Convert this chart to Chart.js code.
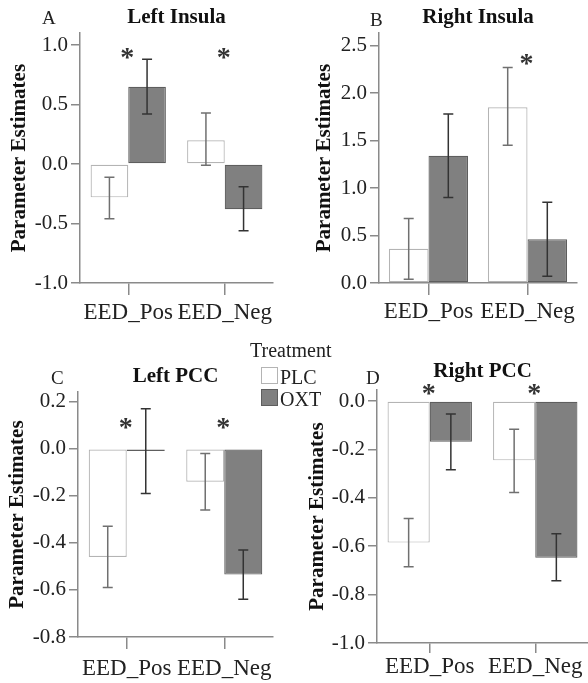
<!DOCTYPE html>
<html>
<head>
<meta charset="utf-8">
<script src="https://cdn.jsdelivr.net/npm/chart.js@4.4.1/dist/chart.umd.min.js"></script>
<style>
  body { margin: 0; background: #fff; }
  #wrap { position: relative; width: 588px; height: 683px; overflow: hidden; font-family: "Liberation Serif", "Times New Roman", serif; color: #222; }
  canvas { position: absolute; }
  .letter { position: absolute; font-size: 19px; line-height: 1; }
  .legend { position: absolute; font-size: 20px; line-height: 1; }
  .box { position: absolute; width: 17px; height: 17px; box-sizing: border-box; }
</style>
</head>
<body>
<div id="wrap">
  <canvas id="panelA" width="290" height="330" style="left:0;top:0"></canvas>
  <canvas id="panelB" width="298" height="330" style="left:290px;top:0"></canvas>
  <canvas id="panelC" width="290" height="353" style="left:0;top:330px"></canvas>
  <canvas id="panelD" width="298" height="353" style="left:290px;top:330px"></canvas>

  <div class="letter" style="left:42px;top:8px">A</div>
  <div class="letter" style="left:370px;top:10px">B</div>
  <div class="letter" style="left:51px;top:368px">C</div>
  <div class="letter" style="left:366px;top:368px">D</div>

  <div class="legend" style="left:250px;top:340px">Treatment</div>
  <div class="box" id="boxPLC" style="left:261px;top:367px"></div>
  <div class="legend" style="left:280px;top:367px">PLC</div>
  <div class="box" id="boxOXT" style="left:261px;top:389px"></div>
  <div class="legend" style="left:280px;top:389px">OXT</div>
</div>
<script>
// categories and series
const categories = ['EED_Pos', 'EED_Neg'];
const seriesNames = ['PLC', 'OXT'];

// A - Left Insula
const leftInsulaTitle = 'Left Insula';
const leftInsulaPLC = [-0.28, 0.20];
const leftInsulaPLCErr = [[-0.46, -0.11], [-0.01, 0.43]];
const leftInsulaOXT = [0.65, -0.38];
const leftInsulaOXTErr = [[0.42, 0.88], [-0.56, -0.19]];
const leftInsulaTicks = [-1.0, -0.5, 0.0, 0.5, 1.0];
const leftInsulaStars = ['EED_Pos', 'EED_Neg'];

// B - Right Insula
const rightInsulaTitle = 'Right Insula';
const rightInsulaPLC = [0.36, 1.85];
const rightInsulaPLCErr = [[0.04, 0.68], [1.45, 2.27]];
const rightInsulaOXT = [1.34, 0.46];
const rightInsulaOXTErr = [[0.90, 1.78], [0.07, 0.85]];
const rightInsulaTicks = [0.0, 0.5, 1.0, 1.5, 2.0, 2.5];
const rightInsulaStars = ['EED_Neg'];

// C - Left PCC
const leftPccTitle = 'Left PCC';
const leftPccPLC = [-0.46, -0.14];
const leftPccPLCErr = [[-0.59, -0.33], [-0.26, -0.02]];
const leftPccOXT = [-0.01, -0.535];
const leftPccOXTErr = [[-0.19, 0.17], [-0.64, -0.43]];
const leftPccTicks = [-0.8, -0.6, -0.4, -0.2, 0.0, 0.2];
const leftPccStars = ['EED_Pos', 'EED_Neg'];

// D - Right PCC
const rightPccTitle = 'Right PCC';
const rightPccPLC = [-0.585, -0.245];
const rightPccPLCErr = [[-0.685, -0.485], [-0.378, -0.116]];
const rightPccOXT = [-0.168, -0.648];
const rightPccOXTErr = [[-0.284, -0.053], [-0.743, -0.548]];
const rightPccTicks = [-1.0, -0.8, -0.6, -0.4, -0.2, 0.0];
const rightPccStars = ['EED_Pos', 'EED_Neg'];

const colors = {
  plcFill: '#ffffff',
  plcBorder: '#b4b4b4',
  plcErr: '#707070',
  oxtFill: '#808080',
  oxtBorder: '#5e5e5e',
  oxtErr: '#333333',
  axis: '#8a8a8a',
  text: '#222222'
};

const serif = '"Liberation Serif", "Times New Roman", serif';
Chart.defaults.font.family = serif;
Chart.defaults.color = colors.text;

document.getElementById('boxPLC').style.cssText += `background:${colors.plcFill};border:1px solid ${colors.plcBorder};`;
document.getElementById('boxOXT').style.cssText += `background:${colors.oxtFill};border:1px solid ${colors.oxtBorder};`;

// draws the error bars from dataset.errorBars
const errorBarPlugin = {
  id: 'errorBars',
  afterDatasetsDraw(chart) {
    const ctx = chart.ctx;
    const y = chart.scales.y;
    chart.data.datasets.forEach((ds, di) => {
      const meta = chart.getDatasetMeta(di);
      if (!ds.errorBars) return;
      ctx.save();
      ctx.strokeStyle = ds.errorColor;
      ctx.lineWidth = 1.5;
      meta.data.forEach((bar, i) => {
        const [lo, hi] = ds.errorBars[i];
        const x = bar.x;
        const yLo = y.getPixelForValue(lo);
        const yHi = y.getPixelForValue(hi);
        ctx.beginPath();
        ctx.moveTo(x, yLo); ctx.lineTo(x, yHi);
        ctx.moveTo(x - 5, yLo); ctx.lineTo(x + 5, yLo);
        ctx.moveTo(x - 5, yHi); ctx.lineTo(x + 5, yHi);
        ctx.stroke();
      });
      ctx.restore();
    });
  }
};

// significance asterisks above categories
const starPlugin = {
  id: 'stars',
  afterDraw(chart, args, opts) {
    if (!opts.labels) return;
    const ctx = chart.ctx;
    const size = 28;
    ctx.save();
    ctx.font = `bold ${size}px ${serif}`;
    ctx.fillStyle = '#333';
    ctx.textAlign = 'center';
    ctx.textBaseline = 'alphabetic';
    opts.labels.forEach(label => {
      const x = chart.scales.x.getPixelForValue(categories.indexOf(label));
      const yc = chart.scales.y.getPixelForValue(opts.value);
      ctx.fillText('*', x - 1, yc + size * 0.52);
    });
    ctx.restore();
  }
};

function makePanel(id, cfg) {
  return new Chart(document.getElementById(id), {
    type: 'bar',
    data: {
      labels: categories,
      datasets: [
        {
          label: seriesNames[0],
          data: cfg.plc,
          errorBars: cfg.plcErr,
          errorColor: colors.plcErr,
          backgroundColor: colors.plcFill,
          borderColor: colors.plcBorder,
          borderWidth: 1.2,
          borderSkipped: false,
          categoryPercentage: cfg.catPct,
          barPercentage: 1.0
        },
        {
          label: seriesNames[1],
          data: cfg.oxt,
          errorBars: cfg.oxtErr,
          errorColor: colors.oxtErr,
          backgroundColor: colors.oxtFill,
          borderColor: colors.oxtBorder,
          borderWidth: 1.2,
          borderSkipped: false,
          categoryPercentage: cfg.catPct,
          barPercentage: 1.0
        }
      ]
    },
    options: {
      responsive: false,
      animation: false,
      layout: {
        padding: { left: 0, right: cfg.padRight, top: 0, bottom: 0 }
      },
      scales: {
        x: {
          offset: true,
          grid: {
            offset: false,
            drawOnChartArea: false,
            drawTicks: true,
            tickLength: cfg.xTickLen,
            color: colors.axis,
            lineWidth: 1.5
          },
          border: { display: true, color: colors.axis, width: 1.5 },
          ticks: {
            color: colors.text,
            font: { size: 23 },
            padding: cfg.xLabelPad,
            maxRotation: 0,
            autoSkip: false
          },
          afterFit: (scale) => { scale.height = cfg.xHeight; }
        },
        y: {
          min: cfg.min,
          max: cfg.max,
          grid: {
            drawOnChartArea: false,
            drawTicks: true,
            tickLength: 9,
            color: colors.axis,
            lineWidth: 1.5
          },
          border: { display: true, color: colors.axis, width: 1.5 },
          ticks: {
            color: colors.text,
            font: { size: 21 },
            padding: 3,
            callback: (v) => Number(v).toFixed(1)
          },
          afterBuildTicks: (scale) => {
            scale.ticks = cfg.ticks.map(v => ({ value: v }));
          },
          afterFit: (scale) => { scale.width = cfg.yWidth; },
          title: {
            display: true,
            text: 'Parameter Estimates',
            color: '#111',
            font: { size: 21, weight: 'bold' },
            padding: { top: cfg.yTitlePad, bottom: 0 }
          }
        }
      },
      plugins: {
        legend: { display: false },
        tooltip: { enabled: false },
        title: {
          display: true,
          text: cfg.title,
          fullSize: false,
          color: '#111',
          font: { size: 21, weight: 'bold' },
          padding: cfg.titlePad
        },
        stars: { labels: cfg.stars, value: cfg.starY }
      }
    },
    plugins: [errorBarPlugin, starPlugin]
  });
}

makePanel('panelA', {
  title: leftInsulaTitle, plc: leftInsulaPLC, plcErr: leftInsulaPLCErr,
  oxt: leftInsulaOXT, oxtErr: leftInsulaOXTErr, ticks: leftInsulaTicks,
  stars: leftInsulaStars, starY: 0.95, min: -1.0, max: 1.1,
  yWidth: 80, xHeight: 47, padRight: 17, titlePad: { top: 5, bottom: 3 },
  yTitlePad: 7, xTickLen: 12, xLabelPad: 4, catPct: 0.78
});

makePanel('panelB', {
  title: rightInsulaTitle, plc: rightInsulaPLC, plcErr: rightInsulaPLCErr,
  oxt: rightInsulaOXT, oxtErr: rightInsulaOXTErr, ticks: rightInsulaTicks,
  stars: rightInsulaStars, starY: 2.37, min: 0.0, max: 2.63,
  yWidth: 89, xHeight: 47, padRight: 11, titlePad: { top: 5, bottom: 3 },
  yTitlePad: 22, xTickLen: 12, xLabelPad: 3, catPct: 0.8
});

makePanel('panelC', {
  title: leftPccTitle, plc: leftPccPLC, plcErr: leftPccPLCErr,
  oxt: leftPccOXT, oxtErr: leftPccOXTErr, ticks: leftPccTicks,
  stars: leftPccStars, starY: 0.114, min: -0.8, max: 0.24,
  yWidth: 78, xHeight: 46, padRight: 17, titlePad: { top: 34, bottom: 3 },
  yTitlePad: 5, xTickLen: 12, xLabelPad: 6, catPct: 0.78
});

makePanel('panelD', {
  title: rightPccTitle, plc: rightPccPLC, plcErr: rightPccPLCErr,
  oxt: rightPccOXT, oxtErr: rightPccOXTErr, ticks: rightPccTicks,
  stars: rightPccStars, starY: 0.058, min: -1.0, max: 0.045,
  yWidth: 87, xHeight: 40, padRight: 0, titlePad: { top: 29, bottom: 6 },
  yTitlePad: 15, xTickLen: 10, xLabelPad: 0, catPct: 0.8
});
</script>
</body>
</html>
